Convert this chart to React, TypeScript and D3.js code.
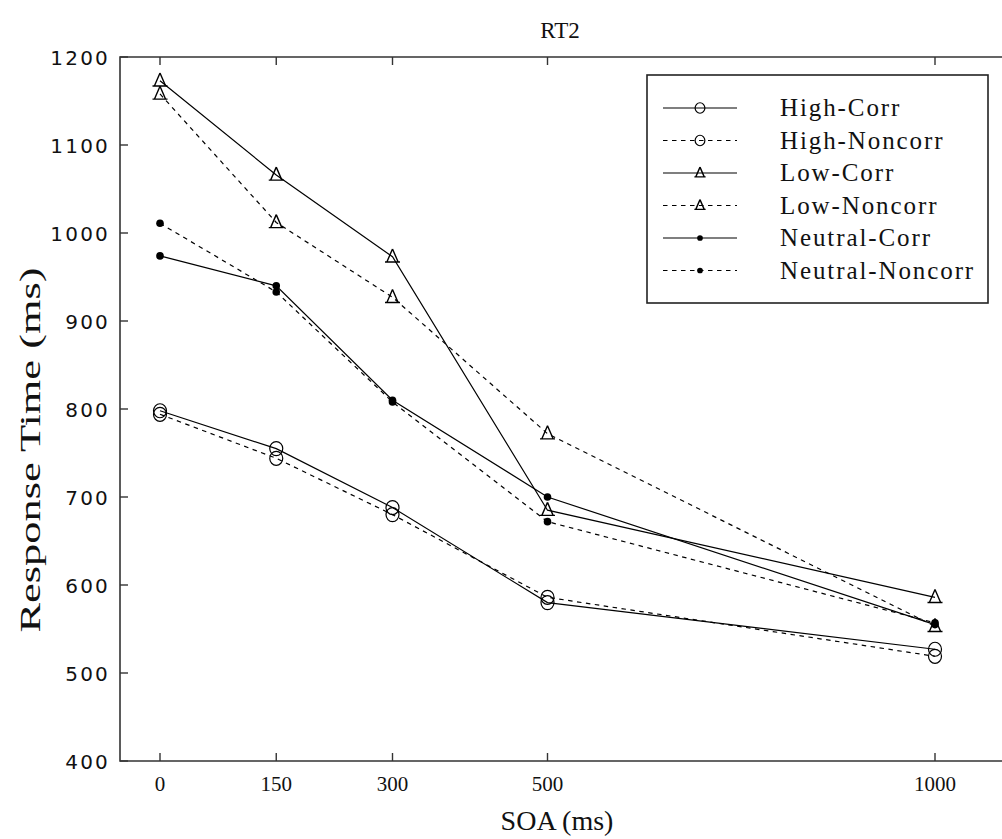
import React from 'react';
import * as d3 from 'd3';

const soa = [0, 150, 300, 500, 1000];
const highCorr = [798, 755, 688, 580, 527];
const highNoncorr = [794, 744, 680, 586, 519];
const lowCorr = [1173, 1066, 973, 685, 586];
const lowNoncorr = [1158, 1012, 927, 772, 553];
const neutralCorr = [974, 940, 810, 700, 555];
const neutralNoncorr = [1011, 933, 808, 672, 557];
const yTicks = [400, 500, 600, 700, 800, 900, 1000, 1100, 1200];
const xTicks = [0, 150, 300, 500, 1000];
const seriesNames = ['High-Corr', 'High-Noncorr', 'Low-Corr', 'Low-Noncorr', 'Neutral-Corr', 'Neutral-Noncorr'];
const seriesValues = [highCorr, highNoncorr, lowCorr, lowNoncorr, neutralCorr, neutralNoncorr];
const seriesMarkers = ['circle', 'circle', 'triangle', 'triangle', 'dot', 'dot'];
const seriesDashed = [false, true, false, true, false, true];

const W = 1002;
const H = 839;
const left = 120;
const right = 1003;
const top = 57;
const bottom = 761;

function Marker({ type, x, y, s }: { type: string; x: number; y: number; s: number }) {
  if (type === 'circle') {
    return <ellipse cx={x} cy={y} rx={6.5 * s} ry={7 * s} fill="none" stroke="#000" strokeWidth={1.2} />;
  }
  if (type === 'triangle') {
    const w = 7.5 * s;
    const h = 13 * s;
    const p = `M${x},${y - h * 0.6} L${x + w * 0.75},${y + h * 0.4} M${x},${y - h * 0.6} L${x - w * 0.75},${y + h * 0.4} M${x - w},${y + h * 0.4} L${x + w},${y + h * 0.4}`;
    return <path d={p} fill="none" stroke="#000" strokeWidth={1.4} />;
  }
  return <circle cx={x} cy={y} r={3.8 * s} fill="#000" />;
}

export default function App() {
  const x = d3.scaleLinear().domain([0, 1000]).range([160, 935]);
  const y = d3.scaleLinear().domain([400, 1200]).range([bottom, top]);
  const line = d3.line<number>().x((_, i) => x(soa[i])).y((d) => y(d));

  const legX = 647;
  const legY = 75;
  const legW = 341;
  const legH = 228;
  const rowY = (i: number) => 108 + i * 32.5;

  return (
    <svg width={W} height={H} style={{ position: 'absolute', left: 0, top: 0, background: '#fff' }}>
      <rect x={0} y={0} width={W} height={H} fill="#fff" />
      <text x={560} y={38} textAnchor="middle" fontFamily="Liberation Serif" fontSize={23} fill="#111">RT2</text>

      {/* frame */}
      <path d={`M${right},${top} L${left},${top} L${left},${bottom} L${right},${bottom}`} fill="none" stroke="#333" strokeWidth={1.6} />
      {yTicks.map((t) => (
        <g key={'y' + t}>
          <line x1={left} x2={left + 8} y1={y(t)} y2={y(t)} stroke="#333" strokeWidth={1.4} />
          <text x={110} y={y(t) + 7.5} textAnchor="end" fontFamily="DejaVu Sans" fontSize={20} letterSpacing={2.2} fill="#111">{t}</text>
        </g>
      ))}
      {xTicks.map((t) => (
        <g key={'x' + t}>
          <line x1={x(t)} x2={x(t)} y1={bottom} y2={bottom - 8} stroke="#333" strokeWidth={1.4} />
          <line x1={x(t)} x2={x(t)} y1={top} y2={top + 8} stroke="#333" strokeWidth={1.4} />
          <text x={x(t)} y={791} textAnchor="middle" fontFamily="Liberation Serif" fontSize={21} fill="#111">{t}</text>
        </g>
      ))}
      <text x={557} y={830} textAnchor="middle" fontFamily="Liberation Serif" fontSize={28} fill="#111">SOA (ms)</text>
      <text transform={`translate(40,450) rotate(-90)`} textAnchor="middle" fontFamily="Liberation Serif" fontSize={30} textLength={365} lengthAdjust="spacingAndGlyphs" fill="#111">Response Time (ms)</text>

      {/* series */}
      {seriesValues.map((vals, si) => (
        <g key={'s' + si}>
          <path d={line(vals) || ''} fill="none" stroke="#000" strokeWidth={1.2} strokeDasharray={seriesDashed[si] ? '4.5,4.5' : undefined} />
          {vals.map((v, i) => (
            <Marker key={i} type={seriesMarkers[si]} x={x(soa[i])} y={y(v)} s={1} />
          ))}
        </g>
      ))}

      {/* legend */}
      <rect x={legX} y={legY} width={legW} height={legH} fill="#fff" stroke="#222" strokeWidth={1.6} />
      {seriesNames.map((n, i) => (
        <g key={'l' + i}>
          <line x1={663} x2={737} y1={rowY(i)} y2={rowY(i)} stroke="#000" strokeWidth={1.2} strokeDasharray={seriesDashed[i] ? '4.5,4.5' : undefined} />
          <Marker type={seriesMarkers[i]} x={700} y={rowY(i)} s={0.75} />
          <text x={780} y={rowY(i) + 8} fontFamily="Liberation Serif" fontSize={25} letterSpacing={1.9} fill="#111">{n}</text>
        </g>
      ))}
    </svg>
  );
}
